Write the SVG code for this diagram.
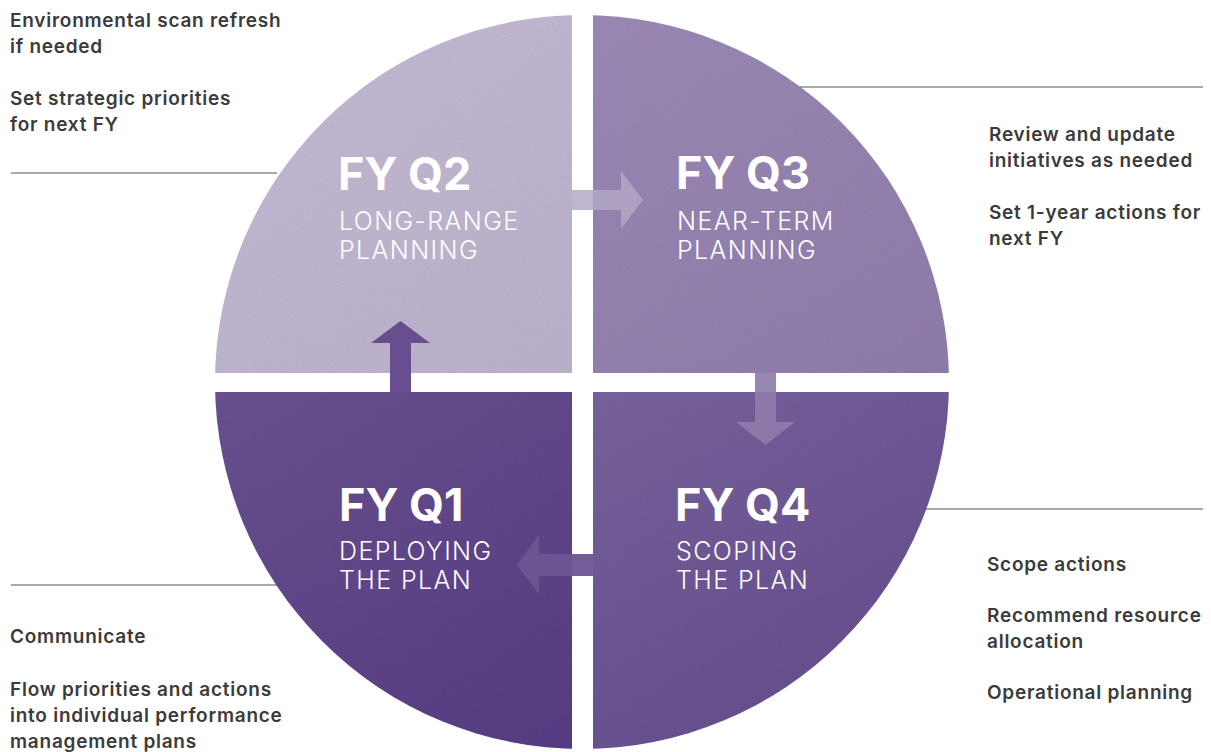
<svg xmlns="http://www.w3.org/2000/svg" width="1211" height="752" viewBox="0 0 1211 752">
  <style>
    .title { font-family: Inter, "Noto Sans", "Liberation Sans", sans-serif; font-weight: 700; font-size: 45px; fill: #ffffff; }
    .sub { font-family: Inter, "Noto Sans", "Liberation Sans", sans-serif; font-weight: 300; font-size: 25px; fill: #ffffff; letter-spacing: 1.4px; }
    .note { font-family: Inter, "Noto Sans", "Liberation Sans", sans-serif; font-weight: 600; font-size: 19px; fill: #3b3b3b; letter-spacing: 0.75px; }
    .leader { stroke: #555555; stroke-width: 1.2; fill: none; }
  </style>
  <defs>
    <clipPath id="disc">
      <circle cx="582" cy="382" r="367"/>
    </clipPath>
    <clipPath id="quads">
      <rect x="0" y="0" width="572" height="373"/>
      <rect x="593" y="0" width="618" height="373"/>
      <rect x="0" y="392" width="572" height="360"/>
      <rect x="593" y="392" width="618" height="360"/>
    </clipPath>
    <linearGradient id="gQ2" x1="0" y1="0" x2="1" y2="1">
      <stop offset="0" stop-color="#c8bed7"/>
      <stop offset="1" stop-color="#beb3ce"/>
    </linearGradient>
    <linearGradient id="gQ3" x1="0" y1="0" x2="1" y2="1">
      <stop offset="0" stop-color="#9d8bb7"/>
      <stop offset="1" stop-color="#8c79aa"/>
    </linearGradient>
    <linearGradient id="gQ1" x1="0" y1="0" x2="1" y2="1">
      <stop offset="0" stop-color="#6e5694"/>
      <stop offset="1" stop-color="#573c84"/>
    </linearGradient>
    <linearGradient id="gQ4" x1="0" y1="0" x2="1" y2="1">
      <stop offset="0" stop-color="#78639d"/>
      <stop offset="1" stop-color="#5e4389"/>
    </linearGradient>
    <filter id="grain" x="0" y="0" width="100%" height="100%">
      <feTurbulence type="fractalNoise" baseFrequency="0.9" numOctaves="2" seed="3" result="n"/>
      <feColorMatrix in="n" type="matrix" values="0 0 0 0 0  0 0 0 0 0  0 0 0 0 0  0 0 0 0.06 0"/>
    </filter>
  </defs>

  <g clip-path="url(#disc)">
    <g id="q2">
      <rect x="0" y="0" width="572" height="373" fill="url(#gQ2)"/>
    </g>
    <g id="q3">
      <rect x="593" y="0" width="618" height="373" fill="url(#gQ3)"/>
    </g>
    <g id="q1">
      <rect x="0" y="392" width="572" height="360" fill="url(#gQ1)"/>
    </g>
    <g id="q4">
      <rect x="593" y="392" width="618" height="360" fill="url(#gQ4)"/>
    </g>
    <g clip-path="url(#quads)">
      <rect x="0" y="0" width="1211" height="752" filter="url(#grain)"/>
    </g>

    <g id="connectors">
      <g id="arrow-q2-q3">
        <rect x="572" y="190" width="21" height="20" fill="#c0b5cf"/>
        <polygon points="593,190 621,190 621,171 643,200 621,229 621,210 593,210" fill="#c0b5cf" opacity="0.6"/>
      </g>
      <g id="arrow-q3-q4">
        <rect x="755" y="373" width="21" height="19" fill="#9886b2"/>
        <polygon points="755,392 776,392 776,422 795,422 765.5,445 736,422 755,422" fill="#9886b2" opacity="0.7"/>
      </g>
      <g id="arrow-q4-q1">
        <rect x="572" y="554" width="21" height="22" fill="#735d99"/>
        <polygon points="572,554 539,554 539,535 517,565 539,594 539,576 572,576" fill="#735d99" opacity="0.7"/>
      </g>
      <g id="arrow-q1-q2">
        <rect x="390" y="373" width="21" height="19" fill="#674e8e"/>
        <polygon points="390,373 390,343 371,343 400.5,321 430,343 411,343 411,373" fill="#674e8e"/>
      </g>
    </g>

    <g id="q-labels">
      <text class="title" x="338" y="190">FY Q2</text>
      <text class="sub" x="339" y="230">LONG-RANGE</text>
      <text class="sub" x="339" y="259">PLANNING</text>
      <text class="title" x="676" y="189">FY Q3</text>
      <text class="sub" x="677" y="230">NEAR-TERM</text>
      <text class="sub" x="677" y="259">PLANNING</text>
      <text class="title" x="339" y="521">FY Q1</text>
      <text class="sub" x="339" y="560">DEPLOYING</text>
      <text class="sub" x="339" y="589">THE PLAN</text>
      <text class="title" x="675" y="521">FY Q4</text>
      <text class="sub" x="676" y="560">SCOPING</text>
      <text class="sub" x="676" y="589">THE PLAN</text>
    </g>
  </g>

  <g id="note-q2">
    <line class="leader" x1="11" y1="173" x2="277" y2="173"/>
    <text class="note" x="10" y="27">Environmental scan refresh</text>
    <text class="note" x="10" y="53">if needed</text>
    <text class="note" x="10" y="105">Set strategic priorities</text>
    <text class="note" x="10" y="131">for next FY</text>
  </g>
  <g id="note-q3">
    <line class="leader" x1="800" y1="87" x2="1203" y2="87"/>
    <text class="note" x="989" y="141">Review and update</text>
    <text class="note" x="989" y="167">initiatives as needed</text>
    <text class="note" x="989" y="219">Set 1-year actions for</text>
    <text class="note" x="989" y="245">next FY</text>
  </g>
  <g id="note-q1">
    <line class="leader" x1="11" y1="585" x2="277" y2="585"/>
    <text class="note" x="10" y="643">Communicate</text>
    <text class="note" x="10" y="696">Flow priorities and actions</text>
    <text class="note" x="10" y="722">into individual performance</text>
    <text class="note" x="10" y="748">management plans</text>
  </g>
  <g id="note-q4">
    <line class="leader" x1="926" y1="509" x2="1203" y2="509"/>
    <text class="note" x="987" y="571">Scope actions</text>
    <text class="note" x="987" y="622">Recommend resource</text>
    <text class="note" x="987" y="648">allocation</text>
    <text class="note" x="987" y="699">Operational planning</text>
  </g>
</svg>
